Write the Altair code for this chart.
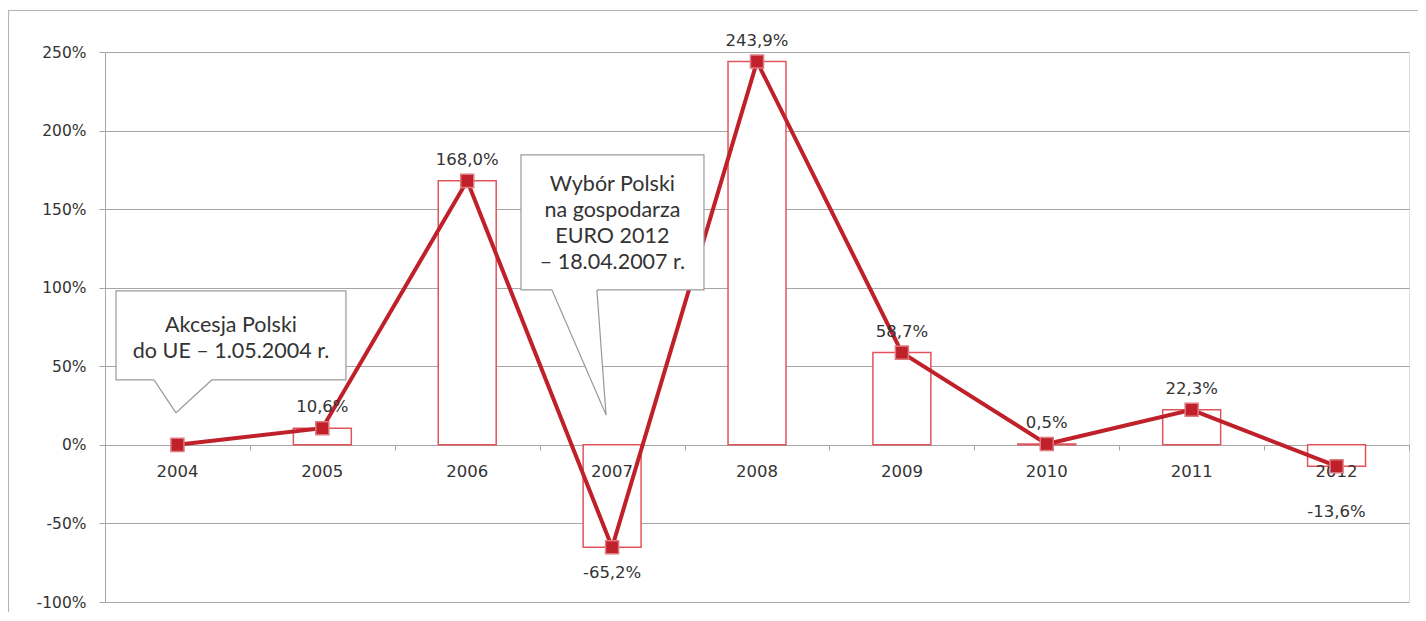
import altair as alt
import pandas as pd

# ---- data ----
years = ["2004", "2005", "2006", "2007", "2008", "2009", "2010", "2011", "2012"]
values = [0.0, 10.6, 168.0, -65.2, 243.9, 58.7, 0.5, 22.3, -13.6]
labels = ["" if y == "2004" else f"{v:.1f}".replace(".", ",") + "%" for y, v in zip(years, values)]
y_ticks = [-100, -50, 0, 50, 100, 150, 200, 250]

df = pd.DataFrame({"year": years, "v": values, "lab": labels})

# ---- callout annotations (x in category units 0..9, y in %) ----
boxes = pd.DataFrame({
    "x": [0.076, 2.871], "x2": [1.663, 4.134],
    "y": [98.0, 184.5], "y2": [41.4, 98.6],
})
tails = pd.DataFrame({
    "tid": ["a", "a", "a", "b", "b", "b"],
    "x":  [0.338, 0.490, 0.738, 3.085, 3.395, 3.458],
    "lo": [41.4, 20.4, 41.4, 98.6, 32.5, 19.1],
    "hi": [42.3, 42.3, 42.3, 99.5, 99.5, 19.1],
})
edges = pd.DataFrame({
    "e": ["a1", "a1", "a2", "a2", "b1", "b1", "b2", "b2"],
    "x": [0.338, 0.490, 0.490, 0.738, 3.085, 3.458, 3.458, 3.395],
    "y": [41.4, 20.4, 20.4, 41.4, 98.6, 19.1, 19.1, 98.6],
})
notes = pd.DataFrame({
    "x": [0.870, 3.502], "y": [75.7, 165.5],
    "t": ["Akcesja Polski\ndo UE – 1.05.2004  r.",
          "Wybór Polski\nna gospodarza\nEURO 2012\n– 18.04.2007  r."],
})

RED = "#c0202a"
BAR = "#e0555b"
GRID = "#a6a6a6"
TXT = "#333333"
FONT = "DejaVu Sans"
FS = 16.5

xband = alt.X("year:N", sort=years,
              scale=alt.Scale(paddingInner=0, paddingOuter=0),
              axis=alt.Axis(title=None, labels=False, orient="bottom", offset=-157,
                            tickBand="extent", tickSize=5, tickColor=GRID,
                            domainColor=GRID, grid=False))
yscale = alt.Y("v:Q", scale=alt.Scale(domain=[-100, 250], nice=False),
               axis=alt.Axis(title=None, values=y_ticks, labelExpr="datum.value + '%'",
                             grid=True, gridColor=GRID, domainColor=GRID, tickColor=GRID,
                             tickSize=6, labelPadding=13, labelFont=FONT, labelFontSize=15.5,
                             labelColor=TXT))
xs = alt.X("year:N", sort=years)

base = alt.Chart(df)

bars = base.transform_filter("datum.v != 0").mark_bar(
    width={"band": 0.4}, fill="white", stroke=BAR, strokeWidth=1.5).encode(x=xband, y=yscale)
yearlab = base.mark_text(dy=27, font=FONT, fontSize=FS, color=TXT, baseline="middle").encode(
    x=xs, y=alt.datum(0), text="year:N")
line = base.mark_line(color=RED, strokeWidth=4).encode(x=xs, y="v:Q")
pts = base.mark_square(size=170, color=RED, stroke="#dd7a80", strokeWidth=1.5, opacity=1).encode(
    x=xs, y="v:Q")
lab_pos = base.transform_filter("datum.v >= 0").mark_text(
    dy=-21, font=FONT, fontSize=FS, color=TXT, baseline="middle").encode(
    x=xs, y="v:Q", text="lab:N")
lab_2007 = base.transform_filter("datum.year == '2007'").mark_text(
    dy=26, font=FONT, fontSize=FS, color=TXT, baseline="middle").encode(
    x=xs, y="v:Q", text="lab:N")
lab_2012 = base.transform_filter("datum.year == '2012'").mark_text(
    dy=46, font=FONT, fontSize=FS, color=TXT, baseline="middle").encode(
    x=xs, y="v:Q", text="lab:N")

band_group = alt.layer(bars, yearlab, line, pts, lab_pos, lab_2007, lab_2012)

qx = alt.Scale(domain=[0, 9], nice=False, zero=False)
box_l = alt.Chart(boxes).mark_rect(fill="white", stroke="#9a9a9a", strokeWidth=1.2).encode(
    x=alt.X("x:Q", scale=qx, axis=None), x2="x2:Q", y="y:Q", y2="y2:Q")
tail_l = alt.Chart(tails).mark_area(fill="white", opacity=1).encode(
    x=alt.X("x:Q", scale=qx, axis=None), y="lo:Q", y2="hi:Q", detail="tid:N")
edge_l = alt.Chart(edges).mark_line(color="#9a9a9a", strokeWidth=1.2).encode(
    x=alt.X("x:Q", scale=qx, axis=None), y="y:Q", detail="e:N")
note_l = alt.Chart(notes).mark_text(font="Lato", fontSize=21.5, color=TXT, lineBreak="\n",
                                    lineHeight=26, baseline="middle", align="center").encode(
    x=alt.X("x:Q", scale=qx, axis=None), y="y:Q", text="t:N")
callouts = alt.layer(box_l, tail_l, edge_l, note_l)

frame = alt.Chart(pd.DataFrame({"k": [0]})).mark_rect(
    fill="transparent", stroke="#b4b4b4", strokeWidth=1.2).encode(
    x=alt.value(-96.5), x2=alt.value(1420), y=alt.value(-41.5), y2=alt.value(700))

chart = alt.layer(frame, band_group, callouts).resolve_scale(x="independent").properties(
    width=1304, height=550,
    autosize=alt.AutoSizeParams(type="none"),
    padding={"left": 97, "top": 44, "right": 9, "bottom": 10},
).configure_view(stroke=None).configure(background="white")

chart.save("out.html", embed_options={"renderer": "svg", "actions": False})
